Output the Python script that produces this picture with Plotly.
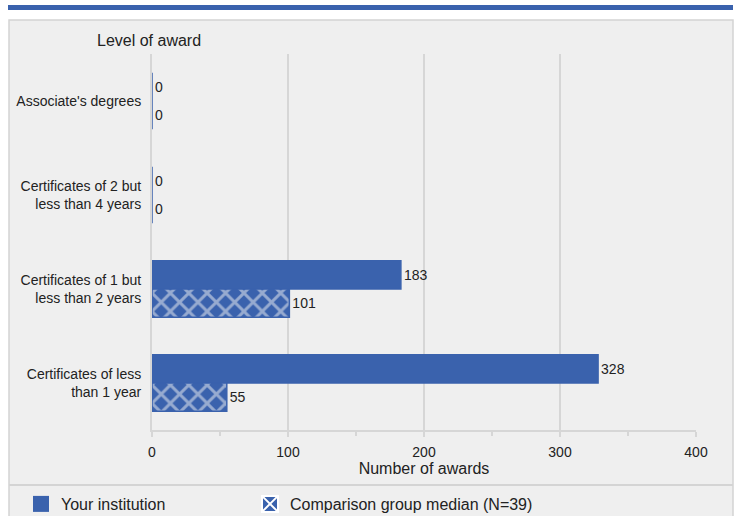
import plotly.graph_objects as go

categories = ["Associate's degrees",
              "Certificates of 2 but<br>less than 4 years",
              "Certificates of 1 but<br>less than 2 years",
              "Certificates of less<br>than 1 year"]
institution = [0, 0, 183, 328]
comparison = [0, 0, 101, 55]
series_names = ["Your institution", "Comparison group median (N=39)"]

W, H = 735, 516
L, R, T, B = 152, 39, 54, 86
pw, ph = W - L - R, H - T - B

def px(x):
    return (x - L) / pw

def py(y):
    return (H - B - y) / ph

BLUE = "#3a62ad"
FONT = "Liberation Sans, Arial, sans-serif"
GRID = "#d6d6d6"

fig = go.Figure()
fig.add_trace(go.Bar(
    y=categories, x=institution, orientation="h", name=series_names[0], showlegend=False,
    marker=dict(color=BLUE, line=dict(color=BLUE, width=1.5)),
    text=institution, textposition="outside", cliponaxis=False,
    textfont=dict(size=14, color="#222")))
fig.add_trace(go.Bar(
    y=categories, x=comparison, orientation="h", name=series_names[1], showlegend=False,
    marker=dict(color=BLUE, line=dict(color=BLUE, width=1.5),
                pattern=dict(shape="x", fgcolor="#f4f4f4", bgcolor=BLUE, size=13, solidity=0.4)),
    text=comparison, textposition="outside", cliponaxis=False,
    textfont=dict(size=14, color="#222")))
# legend entries
fig.add_trace(go.Scatter(x=[None], y=[None], mode="markers", name=series_names[0],
                         legend="legend",
                         marker=dict(symbol="square", size=18, color=BLUE)))
fig.add_trace(go.Scatter(x=[None], y=[None], mode="markers", name=series_names[1],
                         legend="legend2",
                         marker=dict(symbol="square-x", size=18, color=BLUE,
                                     line=dict(color="white", width=2))))

shapes = [
    dict(type="rect", xref="paper", yref="paper", x0=px(9), x1=px(733), y0=py(20), y1=py(530),
         fillcolor="#efefef", line=dict(color="#d4d4d4", width=1.5), layer="below"),
    dict(type="rect", xref="paper", yref="paper", x0=px(8), x1=px(733), y0=py(10), y1=py(5),
         fillcolor=BLUE, line=dict(width=0)),
    dict(type="line", xref="paper", yref="paper", x0=px(9), x1=px(733), y0=py(485), y1=py(485),
         line=dict(color="#d4d4d4", width=2)),
]

legend_common = dict(orientation="h", yanchor="middle", xanchor="left",
                     font=dict(size=16, color="#222"),
                     bgcolor="rgba(0,0,0,0)", itemsizing="trace")

fig.update_layout(
    width=W, height=H,
    margin=dict(l=L, r=R, t=T, b=B, autoexpand=False),
    paper_bgcolor="white", plot_bgcolor="rgba(0,0,0,0)",
    font=dict(family=FONT, size=14, color="#222"),
    barmode="group", bargap=0.4, bargroupgap=0,
    shapes=shapes,
    showlegend=True,
    legend=dict(x=px(21), y=py(504), **legend_common),
    legend2=dict(x=px(250), y=py(504), **legend_common),
    annotations=[dict(text="Level of award", xref="paper", yref="paper", x=px(95), y=py(40),
                      xanchor="left", yanchor="middle", showarrow=False,
                      font=dict(size=16, color="#222"))],
)
fig.update_xaxes(range=[0, 400], dtick=100, showgrid=True, gridcolor=GRID, gridwidth=2,
                 showline=True, linecolor=GRID, linewidth=2, zeroline=False, automargin=False,
                 ticks="outside", ticklen=5, tickcolor=GRID, tickwidth=1.5, ticklabelstandoff=3,
                 minor=dict(dtick=50, ticks="outside", ticklen=4, tickcolor=GRID, showgrid=False),
                 tickfont=dict(size=14),
                 title=dict(text="Number of awards", font=dict(size=16), standoff=4))
fig.update_yaxes(autorange="reversed", showline=True, linecolor=GRID, linewidth=2, automargin=False,
                 showgrid=False, ticks="", ticklabelstandoff=6, tickfont=dict(size=14))

fig.write_html("out.html", config={"displayModeBar": False},
               post_script="document.body.style.margin='0';document.body.style.overflow='hidden';")
